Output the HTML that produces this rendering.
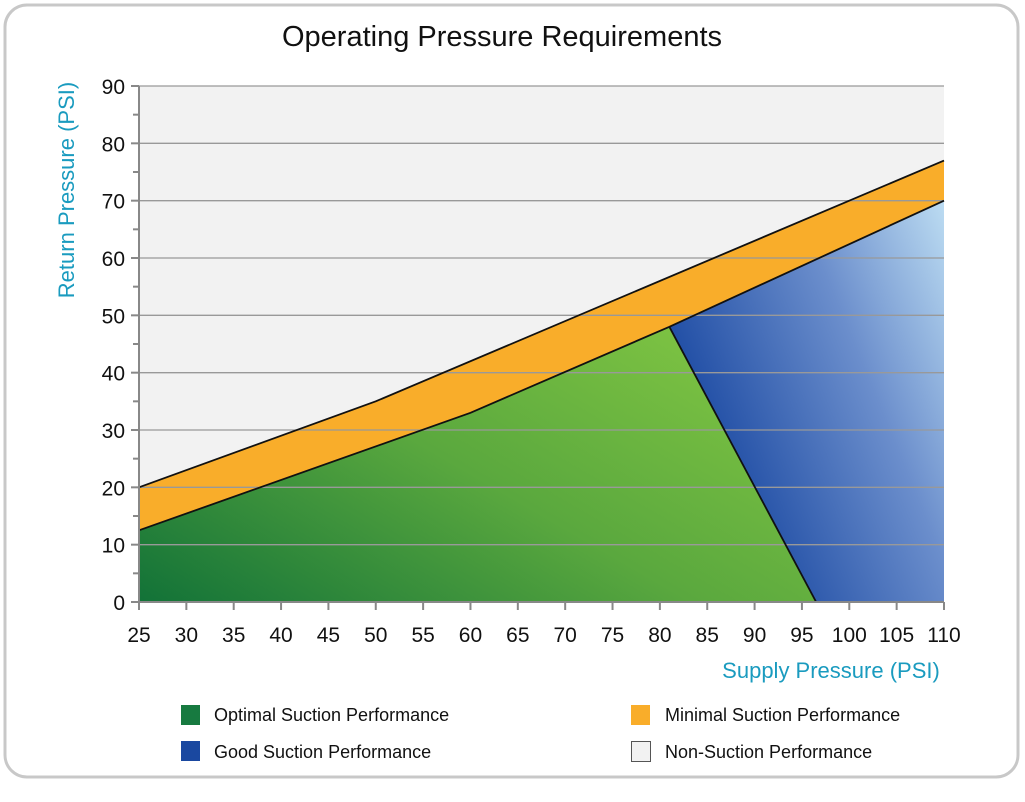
<!DOCTYPE html>
<html><head><meta charset="utf-8"><style>
body{margin:0;background:#fff;width:1025px;height:797px;overflow:hidden;font-family:"Liberation Sans",sans-serif}
</style></head><body>
<svg id="chart" width="1025" height="797">
<defs>
<linearGradient id="gGreen" x1="0" y1="1" x2="1" y2="0.3"><stop offset="0" stop-color="#127238"/><stop offset="0.55" stop-color="#5aa83e"/><stop offset="1" stop-color="#7cc242"/></linearGradient>
<linearGradient id="gBlue" x1="0" y1="0.6" x2="1" y2="0"><stop offset="0" stop-color="#0f3f9c"/><stop offset="0.6" stop-color="#6b8ecc"/><stop offset="1" stop-color="#bcdcf2"/></linearGradient>
</defs>
<rect x="5" y="5" width="1013" height="772" rx="22" fill="#fff" stroke="#c8c8c8" stroke-width="3"/>
<text x="502" y="46" text-anchor="middle" font-size="29" fill="#111">Operating Pressure Requirements</text>
<g id="plot"></g>
<text x="831" y="678" text-anchor="middle" font-size="22" fill="#1a9bbf">Supply Pressure (PSI)</text>
<text transform="translate(74,190) rotate(-90)" text-anchor="middle" font-size="22" fill="#1a9bbf">Return Pressure (PSI)</text>
<g>
<rect x="181" y="705" width="19" height="20" fill="#177a40"/>
<text x="214" y="721" font-size="18" fill="#111">Optimal Suction Performance</text>
<rect x="181" y="741" width="19" height="20" fill="#1a48a0"/>
<text x="214" y="758" font-size="18" fill="#111">Good Suction Performance</text>
<rect x="631" y="705" width="19" height="20" fill="#f9ad2a"/>
<text x="665" y="721" font-size="18" fill="#111">Minimal Suction Performance</text>
<rect x="631.5" y="741.5" width="19" height="20" fill="#f2f2f2" stroke="#555"/>
<text x="665" y="758" font-size="18" fill="#111">Non-Suction Performance</text>
</g>
</svg>
<script>
const xTicks=[25,30,35,40,45,50,55,60,65,70,75,80,85,90,95,100,105,110];
const yTicks=[0,10,20,30,40,50,60,70,80,90];
const upperX=[25,50,110];
const upperY=[20,35,77];
const lowerX=[25,60,81,110];
const lowerY=[12.5,33,48,70];
const dividerX=[81,96.5];
const dividerY=[48,0];
const X=v=>139+(v-25)*(944-139)/85;
const Y=v=>602-v*(602-86)/90;
const NS='http://www.w3.org/2000/svg';
const g=document.getElementById('plot');
function mk(t,a){const e=document.createElementNS(NS,t);for(const k in a)e.setAttribute(k,a[k]);g.appendChild(e);return e;}
let e;
e=mk('rect',{x:X(25),y:Y(90),width:X(110)-X(25),height:Y(0)-Y(90),fill:'#f2f2f2'});


const up=upperX.map((x,i)=>X(x)+','+Y(upperY[i]));
const lo=lowerX.map((x,i)=>X(x)+','+Y(lowerY[i]));
e=mk('polygon',{points:up.concat(lo.slice().reverse()).join(' '),fill:'#f9ad2a'});


const gp=[];for(let i=0;i<lowerX.length;i++){if(lowerX[i]<=dividerX[0])gp.push(X(lowerX[i])+','+Y(lowerY[i]));}
gp.push(X(dividerX[1])+','+Y(dividerY[1]));gp.push(X(25)+','+Y(0));
e=mk('polygon',{points:gp.join(' '),fill:'url(#gGreen)'});


const bp=[X(dividerX[0])+','+Y(dividerY[0])];for(let i=0;i<lowerX.length;i++){if(lowerX[i]>dividerX[0])bp.push(X(lowerX[i])+','+Y(lowerY[i]));}
bp.push(X(110)+','+Y(0));bp.push(X(dividerX[1])+','+Y(dividerY[1]));
e=mk('polygon',{points:bp.join(' '),fill:'url(#gBlue)'});


yTicks.forEach(v=>{if(v===0)return;
e=mk('line',{x1:X(25),x2:X(110),y1:Y(v),y2:Y(v),stroke:'#999','stroke-width':1.3});

});
e=mk('polyline',{points:up.join(' '),fill:'none',stroke:'#111','stroke-width':1.8});


e=mk('polyline',{points:lo.join(' '),fill:'none',stroke:'#111','stroke-width':1.8});


e=mk('line',{x1:X(dividerX[0]),y1:Y(dividerY[0]),x2:X(dividerX[1]),y2:Y(dividerY[1]),stroke:'#111','stroke-width':1.8});


e=mk('line',{x1:X(25),x2:X(25),y1:Y(90),y2:Y(0)+8,stroke:'#888','stroke-width':2});


e=mk('line',{x1:X(25)-8,x2:X(110),y1:Y(0),y2:Y(0),stroke:'#888','stroke-width':2});


yTicks.forEach(v=>{
e=mk('line',{x1:X(25)-8,x2:X(25),y1:Y(v),y2:Y(v),stroke:'#888','stroke-width':2});


if(v<90){e=mk('line',{x1:X(25)-6,x2:X(25),y1:Y(v+5),y2:Y(v+5),stroke:'#888','stroke-width':2});

}
e=mk('text',{x:X(25)-14,y:Y(v)+8,'text-anchor':'end','font-size':21,fill:'#111'});
e.textContent=v;

});
xTicks.forEach(v=>{
e=mk('line',{x1:X(v),x2:X(v),y1:Y(0),y2:Y(0)+8,stroke:'#888','stroke-width':2});


e=mk('text',{x:X(v),y:Y(0)+40,'text-anchor':'middle','font-size':21,fill:'#111'});
e.textContent=v;

});
</script>
</body></html>
